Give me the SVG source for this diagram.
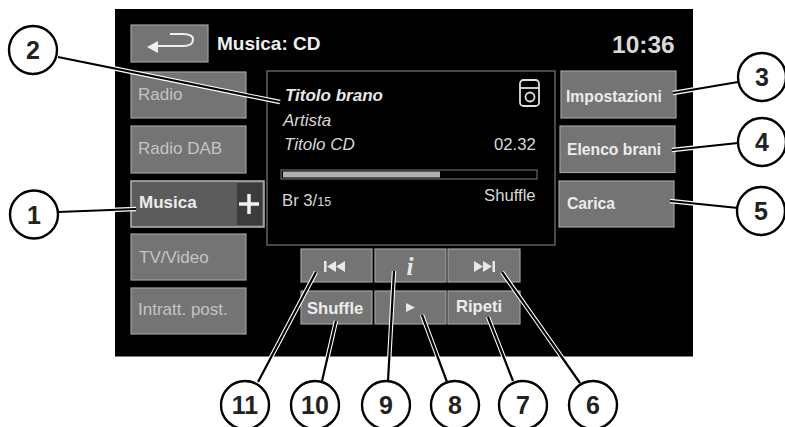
<svg xmlns="http://www.w3.org/2000/svg" width="785" height="427" viewBox="0 0 785 427">
<style>
text{font-family:"Liberation Sans",Arial,sans-serif}
.b{fill:#747474;stroke:#a0a0a0;stroke-width:1.2}
.d{fill:#c4c4c4;font-size:17px}
.w{fill:#ececec;font-size:15.700px;font-weight:bold}
.i{fill:#d8d8d8;font-size:17px;font-style:italic}
.t{fill:#d8d8d8;font-size:16.700px}
.c{fill:#fff;stroke:#000;stroke-width:2.4}
.n{fill:#222;font-size:25px;font-weight:bold;text-anchor:middle}
.k{stroke:#000;stroke-width:2.200;fill:none}
.l{stroke:#fff;stroke-width:4.400;fill:none}
.g{fill:#efefef}
</style>
<rect x="0" y="0" width="785" height="427" fill="#fff"/>
<rect id="screen" x="115" y="9" width="578" height="347.500" fill="#000"/>
<g id="back"><rect class="b" x="131" y="25" width="77" height="37"/><path d="M155 46H183Q193 46 193 39.500Q193 34 183 34H170" fill="none" stroke="#efefef" stroke-width="2"/><path d="M147 47L158 41V53Z" class="g"/></g>
<text id="title" x="217" y="50" fill="#efefef" style="font-size:19px;font-weight:bold">Musica: CD</text>
<text id="clock" x="612" y="53" fill="#d8d8d8" style="font-size:24.500px;font-weight:bold">10:36</text>
<g id="radio"><rect class="b" x="131" y="72" width="115" height="46"/><text class="d" x="138" y="100">Radio</text></g>
<g id="radio-dab"><rect class="b" x="131" y="126" width="115" height="47"/><text class="d" x="138" y="154">Radio DAB</text></g>
<g id="musica"><rect x="131" y="181" width="133" height="46" fill="#5c5c5c" stroke="#b5b5b5" stroke-width="1.500"/><rect x="237" y="183" width="25" height="42" fill="#3c3c3c"/><text class="w" x="139" y="208" style="font-size:17px">Musica</text><path d="M249 194V214M239 204H259" stroke="#f2f2f2" stroke-width="3.500" fill="none"/></g>
<g id="tv-video"><rect class="b" x="131" y="234" width="115" height="46"/><text class="d" x="139" y="263">TV/Video</text></g>
<g id="intratt"><rect class="b" x="131" y="288" width="115" height="46"/><text class="d" x="138" y="315">Intratt. post.</text></g>
<g id="panel"><rect x="267" y="71" width="288" height="174" fill="#000" stroke="#7a7a7a" stroke-width="1.200"/>
<text x="285" y="101" fill="#e8e8e8" style="font-size:17px;font-weight:bold;font-style:italic">Titolo brano</text>
<text class="i" x="283" y="126">Artista</text>
<text class="i" x="284" y="150">Titolo CD</text>
<text class="t" x="494" y="150">02.32</text>
<rect x="281" y="170" width="256" height="9" fill="#000" stroke="#6a6a6a" stroke-width="1.200"/><rect x="283" y="171.500" width="157" height="6" fill="#b0b0b0"/>
<text class="t" x="282" y="206">Br 3/<tspan style="font-size:12.500px">15</tspan></text>
<text class="t" x="484" y="201">Shuffle</text>
<g fill="none" stroke="#e0e0e0" stroke-width="1.800"><rect x="520" y="80" width="19" height="26" rx="3.500"/><path d="M520 88H539"/><circle cx="530" cy="97" r="4.500"/></g></g>
<g id="impostazioni"><rect class="b" x="561" y="71" width="115" height="47"/><text class="w" x="566" y="102">Impostazioni</text></g>
<g id="elenco"><rect class="b" x="560" y="126" width="115" height="46.500"/><text class="w" x="567" y="155">Elenco brani</text></g>
<g id="carica"><rect class="b" x="559" y="181" width="115" height="46"/><text class="w" x="567" y="209">Carica</text></g>
<g id="prev"><rect class="b" x="301" y="249" width="71" height="33"/><path d="M324 261H326.500V272H324ZM327 266.500L336 261V272ZM336 266.500L345 261V272Z" fill="#e8e8e8"/></g>
<g id="info"><rect class="b" x="375" y="249" width="71" height="33"/><text x="410" y="275" text-anchor="middle" fill="#e8e8e8" style="font-family:'Liberation Serif',serif;font-size:25px;font-weight:bold;font-style:italic">i</text></g>
<g id="next"><rect class="b" x="448" y="249" width="72" height="33"/><path d="M474 261L483 266.500L474 272ZM483 261L492 266.500L483 272ZM492.500 261H495V272H492.500Z" fill="#e8e8e8"/></g>
<g id="shuffle"><rect class="b" x="301" y="291" width="71" height="33"/><text class="w" x="307" y="314" style="font-size:16.600px">Shuffle</text></g>
<g id="play"><rect class="b" x="375" y="291" width="71" height="33"/><path d="M406 303L415 307.500L406 312Z" fill="#e8e8e8"/></g>
<g id="ripeti"><rect class="b" x="448" y="291" width="72" height="33"/><text class="w" x="456" y="312" style="font-size:16.600px">Ripeti</text></g>
<g id="connectors">
<path class="l" d="M58 212L136 209M58 57L280 102M738 82L673 93M738 143L672 150M738 208L670 201M580 383L502 272M513 381L488 317M447 382L422 315M388 381L394 271M322 381L336 321M258 382L316 272"/>
<path class="k" d="M58 212L136 209M58 57L280 102M738 82L673 93M738 143L672 150M738 208L670 201M580 383L502 272M513 381L488 317M447 382L422 315M388 381L394 271M322 381L336 321M258 382L316 272"/>
</g>
<g id="c1"><circle class="c" cx="34" cy="214.500" r="24"/><text class="n" x="34" y="223.500">1</text></g>
<g id="c2"><circle class="c" cx="33" cy="50" r="24"/><text class="n" x="33" y="59">2</text></g>
<g id="c3"><circle class="c" cx="762" cy="77" r="24"/><text class="n" x="762" y="86">3</text></g>
<g id="c4"><circle class="c" cx="762" cy="142" r="24"/><text class="n" x="762" y="151">4</text></g>
<g id="c5"><circle class="c" cx="761" cy="211" r="24"/><text class="n" x="761" y="220">5</text></g>
<g id="c6"><circle class="c" cx="593" cy="405" r="24"/><text class="n" x="593" y="414">6</text></g>
<g id="c7"><circle class="c" cx="523" cy="405" r="24"/><text class="n" x="523" y="414">7</text></g>
<g id="c8"><circle class="c" cx="455" cy="405" r="24"/><text class="n" x="455" y="414">8</text></g>
<g id="c9"><circle class="c" cx="386" cy="405" r="24"/><text class="n" x="386" y="414">9</text></g>
<g id="c10"><circle class="c" cx="315" cy="405" r="24"/><text class="n" x="315" y="414">10</text></g>
<g id="c11"><circle class="c" cx="245" cy="405" r="24"/><text class="n" x="245" y="414">11</text></g>
</svg>
